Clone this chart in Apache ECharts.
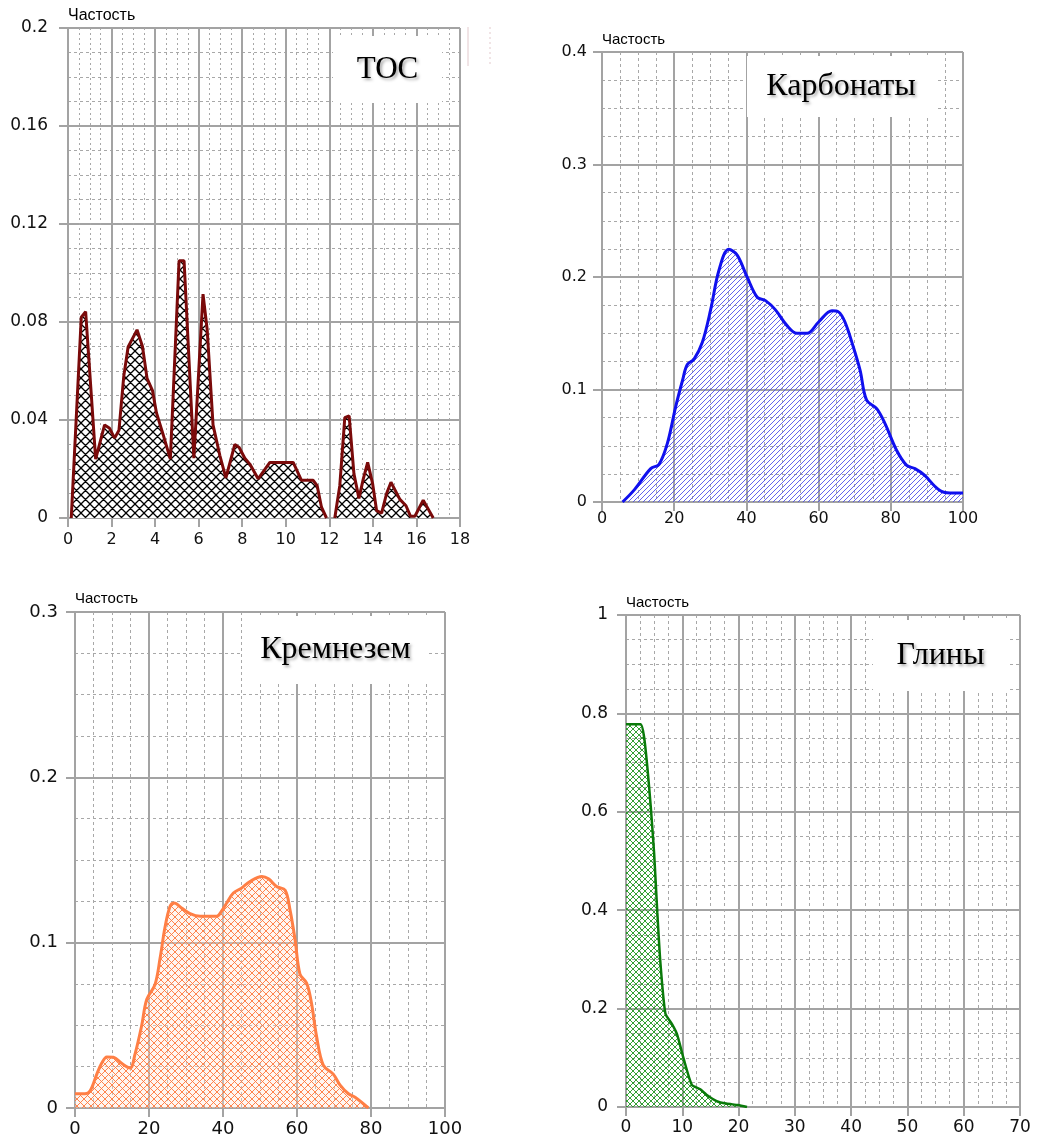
<!DOCTYPE html>
<html>
<head>
<meta charset="utf-8">
<script src="https://cdn.jsdelivr.net/npm/echarts@6/dist/echarts.min.js"></script>
<style>
html,body{margin:0;padding:0;background:#fff;}
#chart{width:1040px;height:1142px;}
</style>
</head>
<body>
<div id="chart"></div>
<script>
// ---------- DATA ----------
const yName = 'Частость';
const panelTitles = ['TOC', 'Карбонаты', 'Кремнезем', 'Глины'];

// TOC
const tocXTicks = [0, 2, 4, 6, 8, 10, 12, 14, 16, 18];
const tocYTicks = [0, 0.04, 0.08, 0.12, 0.16, 0.2];
const tocX = [0.15, 0.61, 0.81, 1.27, 1.68, 1.91, 2.14, 2.34, 2.56, 2.76, 3.17, 3.42, 3.63, 3.88, 4.06, 4.37, 4.70,
  5.10, 5.33, 5.78, 6.20, 6.39, 6.66, 6.97, 7.25, 7.66, 7.86, 8.12, 8.35, 8.73, 9.27, 10.34, 10.72, 11.26, 11.44, 11.64, 11.87,
  12.06,
  12.25, 12.48, 12.71, 12.91, 13.13, 13.36, 13.56, 13.76, 13.99, 14.17, 14.40, 14.63, 14.83, 15.24, 15.52, 15.73, 15.93, 16.31, 16.77];
const tocY = [0, 0.082, 0.0842, 0.024, 0.038, 0.0366, 0.0326, 0.0358, 0.0578, 0.0698, 0.0768, 0.070, 0.057, 0.052, 0.043, 0.034, 0.024,
  0.105, 0.105, 0.0244, 0.0914, 0.077, 0.038, 0.0256, 0.0164, 0.030, 0.0288, 0.0244, 0.022, 0.016, 0.0227, 0.0227, 0.0154, 0.0154, 0.0132, 0.0044, 0,
  '-',
  0, 0.0132, 0.041, 0.0417, 0.018, 0.008, 0.016, 0.0227, 0.0139, 0.003, 0.002, 0.010, 0.0146, 0.0076, 0.005, 0.0007, 0.0007, 0.0073, 0];

// Карбонаты
const carbXTicks = [0, 20, 40, 60, 80, 100];
const carbYTicks = [0, 0.1, 0.2, 0.3, 0.4];
const carbX = [5.7, 9.0, 13.5, 15.8, 18.1, 20.4, 22.3, 23.6, 25.5, 27.8, 30.1, 32.4, 35.1, 37.4, 40.2, 43.0, 45.3, 48.0,
  51.2, 54.0, 56.8, 60.0, 63.7, 65.5, 67.3, 69.6, 71.5, 73.3, 76.1, 78.4, 81.6, 84.4, 86.7, 89.4, 92.2, 94.5, 97.2, 100];
const carbY = [0, 0.011, 0.0297, 0.0335, 0.052, 0.0846, 0.108, 0.122, 0.127, 0.142, 0.171, 0.206, 0.2246, 0.2196, 0.200, 0.182, 0.179, 0.171,
  0.157, 0.150, 0.150, 0.160, 0.170, 0.169, 0.160, 0.138, 0.117, 0.0905, 0.083, 0.0697, 0.046, 0.0326, 0.0297, 0.0237, 0.014, 0.0089, 0.008, 0.008];

// Кремнезем
const kremXTicks = [0, 20, 40, 60, 80, 100];
const kremYTicks = [0, 0.1, 0.2, 0.3];
const kremX = [0, 2.7, 4.1, 5.9, 7.2, 8.6, 10.4, 12.6, 14.9, 16.2, 18.0, 19.4, 21.6, 23.0, 24.3, 25.7, 26.8, 28.8, 31.1, 33.8, 38.3,
  39.6, 41.0, 42.8, 45.0, 47.3, 50.5, 52.3, 54.5, 56.8, 58.1, 59.5, 60.8, 62.6, 63.9, 65.3, 67.1, 69.8, 71.6, 73.9, 75.7, 79.3];
const kremY = [0.0086, 0.0086, 0.0104, 0.0205, 0.027, 0.0309, 0.0307, 0.027, 0.0242, 0.0324, 0.0496, 0.0658, 0.0745, 0.0907, 0.109, 0.122, 0.124, 0.121, 0.1176, 0.116, 0.116,
  0.119, 0.124, 0.130, 0.133, 0.137, 0.140, 0.1386, 0.134, 0.1317, 0.120, 0.1015, 0.081, 0.0755, 0.0637, 0.0432, 0.0259, 0.0205, 0.014, 0.0086, 0.0065, 0];

// Глины
const glinXTicks = [0, 10, 20, 30, 40, 50, 60, 70];
const glinYTicks = [0, 0.2, 0.4, 0.6, 0.8, 1];
const glinX = [0, 2.6, 3.2, 3.8, 4.4, 5.0, 5.56, 6.1, 7.0, 8.2, 9.06, 10.2, 11.7, 13.2, 14.3, 16.1, 17.8, 19.9, 21.5];
const glinY = [0.778, 0.778, 0.753, 0.69, 0.61, 0.515, 0.396, 0.295, 0.19, 0.168, 0.148, 0.1, 0.045, 0.036, 0.025, 0.012, 0.007, 0.004, 0];

// ---------- HELPERS ----------
function pairs(xs, ys) { return xs.map((x, i) => [x, ys[i]]); }

function makePattern(size, color, bg, cross, lw) {
  const c = document.createElement('canvas');
  c.width = size; c.height = size;
  const ctx = c.getContext('2d');
  if (bg) { ctx.fillStyle = bg; ctx.fillRect(0, 0, size, size); }
  ctx.strokeStyle = color; ctx.lineWidth = lw; ctx.lineCap = 'square';
  ctx.beginPath();
  ctx.moveTo(0, size); ctx.lineTo(size, 0);
  ctx.moveTo(-1, 1); ctx.lineTo(1, -1);
  ctx.moveTo(size - 1, size + 1); ctx.lineTo(size + 1, size - 1);
  if (cross) {
    ctx.moveTo(0, 0); ctx.lineTo(size, size);
    ctx.moveTo(size - 1, -1); ctx.lineTo(size + 1, 1);
    ctx.moveTo(-1, size - 1); ctx.lineTo(1, size + 1);
  }
  ctx.stroke();
  return { image: c, repeat: 'repeat' };
}

const GRID_C = '#a3a3a3';
const MINOR_C = '#a8a8a8';
const FONT = 'DejaVu Sans';

function xAxisDef(gi, ticks, fs, margin, minorDash) {
  return {
    type: 'value', gridIndex: gi,
    min: ticks[0], max: ticks[ticks.length - 1], interval: ticks[1] - ticks[0],
    axisLine: { show: true, lineStyle: { color: GRID_C, width: 2 } },
    axisTick: { show: true, inside: false, length: 9, lineStyle: { color: GRID_C, width: 2 } },
    axisLabel: { fontSize: fs, fontFamily: FONT, color: '#111', margin: margin, showMinLabel: true, showMaxLabel: true },
    splitLine: { show: true, lineStyle: { color: GRID_C, width: 2 } },
    minorTick: { show: false, splitNumber: 4 },
    minorSplitLine: { show: true, lineStyle: { color: MINOR_C, width: 1, type: minorDash } }
  };
}
function yAxisDef(gi, ticks, fs, margin, nameFs, nameGap, minorDash) {
  return {
    type: 'value', gridIndex: gi,
    min: ticks[0], max: ticks[ticks.length - 1], interval: ticks[1] - ticks[0],
    name: yName, nameLocation: 'end', nameGap: nameGap,
    nameTextStyle: { align: 'left', verticalAlign: 'middle', fontSize: nameFs, fontFamily: 'Liberation Sans', color: '#000' },
    axisLine: { show: true, lineStyle: { color: GRID_C, width: 2 } },
    axisTick: { show: true, inside: false, length: 9, lineStyle: { color: GRID_C, width: 2 } },
    axisLabel: { fontSize: fs, fontFamily: FONT, color: '#111', margin: margin, showMinLabel: true, showMaxLabel: true },
    splitLine: { show: true, lineStyle: { color: GRID_C, width: 2 } },
    minorTick: { show: false, splitNumber: 4 },
    minorSplitLine: { show: true, lineStyle: { color: MINOR_C, width: 1, type: minorDash } }
  };
}

function titleBox(x, y, w, h, text, fs) {
  return [
    { type: 'rect', left: x, top: y, z: 50, shape: { width: w, height: h }, style: { fill: '#fff' } },
    { type: 'text', x: x + w / 2, y: y + h / 2, z: 51,
      style: { text: text, fontFamily: 'Liberation Serif', fontSize: fs, fill: '#000', align: 'center', verticalAlign: 'middle',
        textShadowColor: 'rgba(0,0,0,0.35)', textShadowBlur: 3, textShadowOffsetX: 2, textShadowOffsetY: 2 } }
  ];
}

const chart = echarts.init(document.getElementById('chart'), null, { renderer: 'canvas' });

const option = {
  backgroundColor: '#fff',
  animation: false,
  grid: [
    { left: 68, top: 28, width: 392, height: 490, containLabel: false },
    { left: 602, top: 52, width: 361, height: 450, containLabel: false },
    { left: 75, top: 612, width: 370, height: 496, containLabel: false },
    { left: 626, top: 615, width: 394, height: 492, containLabel: false }
  ],
  xAxis: [
    xAxisDef(0, tocXTicks, 16, 14, [2, 3]),
    xAxisDef(1, carbXTicks, 16, 9, [3, 3]),
    xAxisDef(2, kremXTicks, 18, 12, [3, 3]),
    xAxisDef(3, glinXTicks, 17, 12, [3, 3])
  ],
  yAxis: [
    yAxisDef(0, tocYTicks, 17, 20, 16, 12, [3, 3]),
    yAxisDef(1, carbYTicks, 16, 15, 15, 12, [3, 3]),
    yAxisDef(2, kremYTicks, 18, 17, 15, 13, [3, 3]),
    yAxisDef(3, glinYTicks, 17, 18, 15, 12, [3, 3])
  ],
  series: [
    { type: 'line', xAxisIndex: 0, yAxisIndex: 0, data: pairs(tocX, tocY), showSymbol: false, symbol: 'none',
      connectNulls: false, lineStyle: { color: '#7a0a0a', width: 3 },
      areaStyle: { color: makePattern(9, '#000', '#fff', true, 1.3), opacity: 1 } },
    { type: 'line', xAxisIndex: 1, yAxisIndex: 1, data: pairs(carbX, carbY), showSymbol: false, symbol: 'none',
      smooth: 0.35, lineStyle: { color: '#1010ee', width: 3 },
      areaStyle: { color: makePattern(5, 'rgba(70,70,235,0.85)', null, false, 1), opacity: 1 } },
    { type: 'line', xAxisIndex: 2, yAxisIndex: 2, data: pairs(kremX, kremY), showSymbol: false, symbol: 'none',
      smooth: 0.35, lineStyle: { color: '#ff7f45', width: 3 },
      areaStyle: { color: makePattern(7, 'rgba(255,120,60,0.9)', 'rgba(255,230,215,0.35)', true, 1), opacity: 1 } },
    { type: 'line', xAxisIndex: 3, yAxisIndex: 3, data: pairs(glinX, glinY), showSymbol: false, symbol: 'none',
      smooth: 0.2, lineStyle: { color: '#0a7a0a', width: 2.5 },
      areaStyle: { color: makePattern(6, 'rgba(30,150,30,0.9)', null, true, 1), opacity: 1 } }
  ],
  graphic: [].concat(
    titleBox(333, 36, 109, 67, panelTitles[0], 31),
    titleBox(747, 56, 188, 61, panelTitles[1], 32),
    titleBox(243, 616, 185, 68, panelTitles[2], 32),
    titleBox(873, 620, 135, 71, panelTitles[3], 32),
    [
      { type: 'line', z: 50, shape: { x1: 468, y1: 27, x2: 468, y2: 66 }, style: { stroke: '#e2c9cc', lineWidth: 1 } },
      { type: 'line', z: 50, shape: { x1: 490, y1: 27, x2: 490, y2: 66 }, style: { stroke: '#e2c9cc', lineWidth: 1, lineDash: [2, 3] } }
    ]
  )
};
chart.setOption(option);
</script>
</body>
</html>
